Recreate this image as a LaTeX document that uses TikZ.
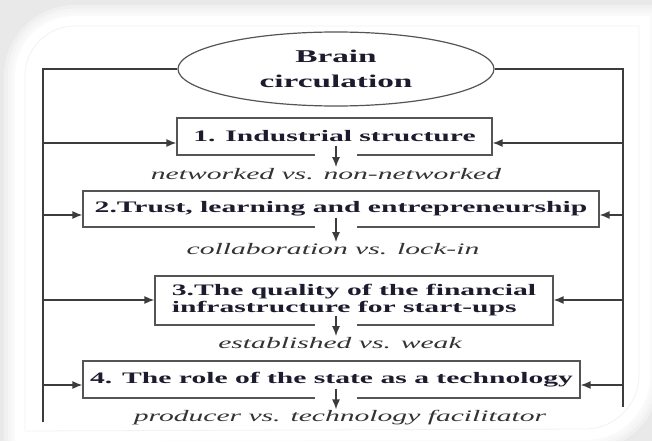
\documentclass[tikz,border=0pt]{standalone}
\usepackage{fontspec}
\setmainfont{Liberation Serif}[FakeStretch=1.85]
\usetikzlibrary{shapes.geometric,arrows.meta,calc}
\definecolor{lnc}{HTML}{3C3C3C}
\definecolor{boxc}{HTML}{555555}
\definecolor{txc}{HTML}{1C1C2E}
\definecolor{itc}{HTML}{333333}
\newcommand\cardpath{(15,441) -- (15,76) arc[start angle=180,end angle=270,radius=60] -- (650,16) -- (650,375) arc[start angle=0,end angle=90,radius=65] -- cycle}
\begin{document}
\begin{tikzpicture}[x=1pt,y=-1pt,
  ln/.style={draw=lnc, line width=1.4pt},
  arr/.style={ln, -{Latex[length=10pt,width=8pt]}},
  boxs/.style={draw=boxc, line width=1.2pt, fill=white, inner sep=2pt, text=txc, font=\fontsize{16}{17}\selectfont\bfseries},
  lab/.style={inner sep=1pt, text=itc, font=\fontsize{16}{17}\selectfont\itshape}]
\useasboundingbox (0,0) rectangle (652,441);
% frame and card
\fill[gray!17] (0,0) rectangle (652,441);
\foreach \w in {22,15,9,4} \draw[white, opacity=0.35, line width=\w pt] \cardpath;
\fill[white] \cardpath;
\draw[gray!10, line width=0.8pt] (25,431) -- (25,76) arc[start angle=180,end angle=270,radius=50] -- (639,26) -- (639,375) arc[start angle=0,end angle=90,radius=54] -- cycle;
% nodes
\node[ellipse, draw=boxc, line width=1.2pt, minimum width=316pt, minimum height=74pt, inner sep=0pt, align=center, text=txc, font=\fontsize{18}{25}\selectfont\bfseries] (e) at (336,69) {Brain\\circulation};
\node[boxs, minimum width=315pt, minimum height=37pt] (b1) at (334.5,136.5) {1. Industrial structure};
\node[boxs, minimum width=516pt, minimum height=36pt] (b2) at (341,209) {2.Trust, learning and entrepreneurship};
\node[boxs, minimum width=398pt, minimum height=49pt, align=left] (b3) at (354,300.5) {3.The quality of the financial\\infrastructure for start-ups};
\node[boxs, minimum width=497pt, minimum height=37pt] (b4) at (331.5,379.5) {4. The role of the state as a technology};
\node[lab] (l1) at (326,174) {networked vs. non-networked};
\node[lab] (l2) at (333,249) {collaboration vs. lock-in};
\node[lab] (l3) at (340,343) {established vs. weak};
\node[lab] (l4) at (340,418) {producer vs. technology facilitator};
% spines
\coordinate (Lb) at (43,422);
\coordinate (Rb) at (623,407);
\draw[ln] (e.west) -| (Lb);
\draw[ln] (e.east) -| (Rb);
\coordinate (L1) at (43,143); \coordinate (R1) at (623,143);
\coordinate (L2) at (43,215); \coordinate (R2) at (623,215);
\coordinate (L3) at (43,300); \coordinate (R3) at (623,300);
\coordinate (L4) at (43,385); \coordinate (R4) at (623,385);
\draw[arr] (L1) -- (L1 -| b1.west);
\draw[arr] (R1) -- (R1 -| b1.east);
\draw[arr] (L2) -- (L2 -| b2.west);
\draw[arr] (R2) -- (R2 -| b2.east);
\draw[arr] (L3) -- (L3 -| b3.west);
\draw[arr] (R3) -- (R3 -| b3.east);
\draw[arr] (L4) -- (L4 -| b4.west);
\draw[arr] (R4) -- (R4 -| b4.east);
% down arrows
\foreach \b/\l in {b1/l1,b2/l2,b3/l3,b4/l4} {
  \draw[white, line width=3pt] ($(e.center |- \b.south)+(-21,0)$) -- ($(e.center |- \b.south)+(21,0)$);
  \draw[arr] ($(e.center |- \b.south)+(0,-10)$) -- (e.center |- \l.north);
}
\end{tikzpicture}
\end{document}
